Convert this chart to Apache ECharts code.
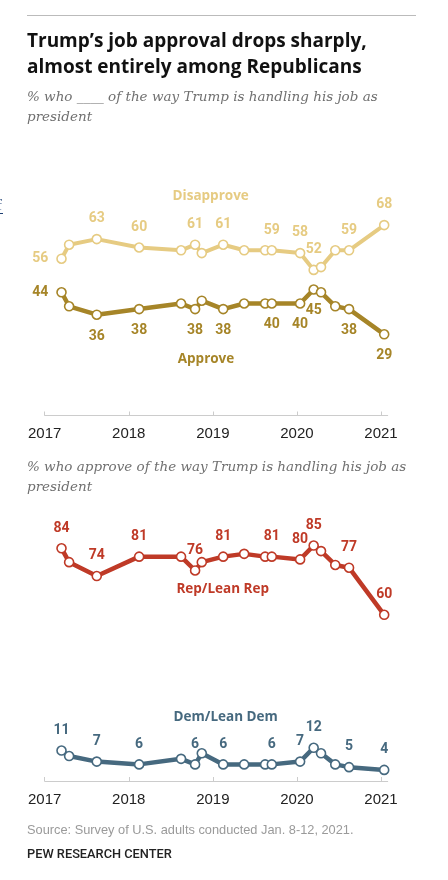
<!DOCTYPE html>
<html><head><meta charset="utf-8">
<script src="https://cdn.jsdelivr.net/npm/echarts@6/dist/echarts.min.js"></script>
<style>html,body{margin:0;padding:0;background:#fff}#c{width:448px;height:880px}</style>
</head><body><div id="c"></div>
<script>
// ---- data ----
const surveyDates = ['2017-03-15','2017-04-17','2017-08-15','2018-02-15','2018-08-16','2018-10-16','2018-11-14','2019-02-15','2019-05-17','2019-08-16','2019-09-14','2020-01-15','2020-03-14','2020-04-15','2020-06-16','2020-08-15','2021-01-15'];
const disapprove = [56,61,63,60,59,61,58,61,59,59,59,58,52,53,59,59,68];
const approve    = [44,39,36,38,40,38,41,38,40,40,40,40,45,44,39,38,29];
const repApprove = [84,79,74,81,81,76,79,81,82,81,81,80,85,83,78,77,60];
const demApprove = [11,9,7,6,8,6,10,6,6,6,6,7,12,10,6,5,4];
const labeledPoints = [0,2,3,5,7,10,11,12,15,16];
const yearTicks = [2017,2018,2019,2020,2021];

// ---- styling ----
const C = {dis:'#E6CB82', app:'#A68528', rep:'#BF3A27', dem:'#46697F'};
const LF = 'Roboto, "Liberation Sans", Arial, sans-serif';
const OF = '"Open Sans", Roboto, Arial, sans-serif';
const SF = '"DejaVu Serif", Georgia, serif';

// date string -> fractional year (for a value axis)
function toYear(s){
  const p = s.split('-').map(Number);
  const start = Date.UTC(p[0],0,1), end = Date.UTC(p[0]+1,0,1);
  return p[0] + (Date.UTC(p[0],p[1]-1,p[2]) - start) / (end - start);
}
const xYears = surveyDates.map(toYear);

function mkData(vals, firstPos, pos, dist){
  return xYears.map((x,i)=>{
    const show = labeledPoints.indexOf(i) >= 0;
    return {value:[x, vals[i]], label:{show:show, position: i===0 ? firstPos : pos, distance: i===0 ? 8 : dist}};
  });
}
function mkSeries(name, vals, color, gi, firstPos, pos, dist, lw){
  return {
    name:name, type:'line', xAxisIndex:gi, yAxisIndex:gi,
    data: mkData(vals, firstPos, pos, dist),
    symbol:'circle', symbolSize:9, showAllSymbol:true,
    itemStyle:{color:'#fff', borderColor:color, borderWidth:1.6},
    lineStyle:{color:color, width:lw},
    label:{color:color, fontFamily:LF, fontWeight:'bold', fontSize:14, formatter: p => p.value[1]},
    emphasis:{disabled:true},
    z: 3, animation:false
  };
}
function xAx(gi){
  return {
    type:'value', gridIndex:gi, min:2017, max:2021.08, interval:1,
    axisLine:{show:true, lineStyle:{color:'#cccccc', width:1}},
    axisTick:{show:true, inside:true, length:4, lineStyle:{color:'#cccccc'}, customValues: yearTicks},
    axisLabel:{customValues: yearTicks, formatter: v => String(v), color:'#222', fontSize:15, fontFamily:'"Liberation Sans", Arial, sans-serif', margin:11, showMinLabel:true, showMaxLabel:true},
    splitLine:{show:false}
  };
}
function yAx(gi){ return {type:'value', gridIndex:gi, min:0, max:100, show:false}; }

const chart = echarts.init(document.getElementById('c'), null, {renderer:'canvas'});
chart.setOption({
  animation:false,
  backgroundColor:'#fff',
  grid:[
    {left:44.7, right:60.3, top:135.5, height:280},
    {left:44.7, right:60.3, top:504, height:277}
  ],
  xAxis:[xAx(0), xAx(1)],
  yAxis:[yAx(0), yAx(1)],
  series:[
    mkSeries('Disapprove', disapprove, C.dis, 0, 'left', 'top', 8, 4),
    mkSeries('Approve', approve, C.app, 0, 'left', 'bottom', 9, 4.5),
    mkSeries('Rep/Lean Rep', repApprove, C.rep, 1, 'top', 'top', 8, 4.5),
    mkSeries('Dem/Lean Dem', demApprove, C.dem, 1, 'top', 'top', 8, 4.5)
  ],
  graphic:[
    {type:'line', shape:{x1:27, y1:15.5, x2:416, y2:15.5}, style:{stroke:'#bbbbbb', lineWidth:1}},
    {type:'text', x:-3, y:206, style:{text:'f', font:'15px "Liberation Serif", serif', fill:'#1d3f73', verticalAlign:'middle'}},
    {type:'line', shape:{x1:0, y1:213.5, x2:3, y2:213.5}, style:{stroke:'#1d3f73', lineWidth:1}},
    {type:'text', x:27, y:42, style:{text:'Trump\u2019s job approval drops sharply,', font:'bold 19px '+OF, fill:'#111', verticalAlign:'middle'}},
    {type:'text', x:27, y:67.5, style:{text:'almost entirely among Republicans', font:'bold 19px '+OF, fill:'#111', verticalAlign:'middle'}},
    {type:'text', x:27, y:97, style:{text:'% who ____ of the way Trump is handling his job as', font:'italic 13.5px '+SF, fill:'#707070', verticalAlign:'middle'}},
    {type:'text', x:27, y:117, style:{text:'president', font:'italic 13.5px '+SF, fill:'#707070', verticalAlign:'middle'}},
    {type:'text', x:210.7, y:195.7, style:{text:'Disapprove', font:'bold 13.5px '+OF, fill:C.dis, align:'center', verticalAlign:'middle'}},
    {type:'text', x:206, y:359, style:{text:'Approve', font:'bold 13.5px '+OF, fill:C.app, align:'center', verticalAlign:'middle'}},
    {type:'text', x:27, y:467, style:{text:'% who approve of the way Trump is handling his job as', font:'italic 13.5px '+SF, fill:'#707070', verticalAlign:'middle'}},
    {type:'text', x:27, y:487, style:{text:'president', font:'italic 13.5px '+SF, fill:'#707070', verticalAlign:'middle'}},
    {type:'text', x:222.7, y:589.3, style:{text:'Rep/Lean Rep', font:'bold 13.5px '+OF, fill:C.rep, align:'center', verticalAlign:'middle'}},
    {type:'text', x:225.7, y:717.3, style:{text:'Dem/Lean Dem', font:'bold 13.5px '+OF, fill:C.dem, align:'center', verticalAlign:'middle'}},
    {type:'text', x:27, y:830, style:{text:'Source: Survey of U.S. adults conducted Jan. 8-12, 2021.', font:'12.8px "Liberation Sans", Arial, sans-serif', fill:'#9a9a9a', verticalAlign:'middle'}},
    {type:'text', x:27, y:855, style:{text:'PEW RESEARCH CENTER', font:'500 12.8px '+LF, fill:'#222', verticalAlign:'middle'}}
  ]
});
</script></body></html>
